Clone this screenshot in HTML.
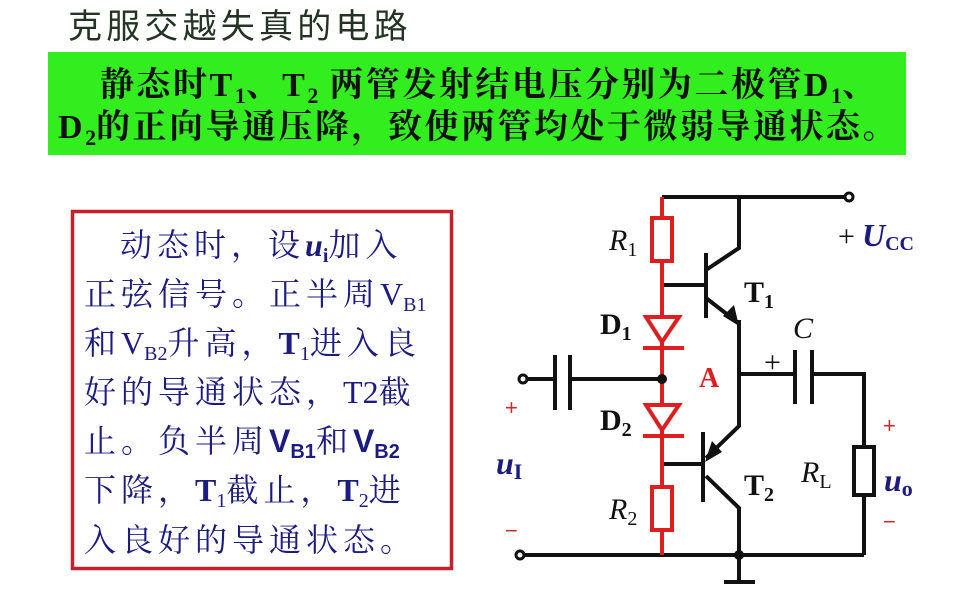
<!DOCTYPE html>
<html><head><meta charset="utf-8"><style>
html,body{margin:0;padding:0;background:#fff;width:959px;height:598px;overflow:hidden}
svg{display:block}
.t{font-family:"Liberation Serif","Noto Serif CJK SC",serif}
.s{font-family:"Liberation Sans","Noto Sans CJK SC",sans-serif}
</style></head><body>
<svg width="959" height="598" viewBox="0 0 959 598" xmlns="http://www.w3.org/2000/svg">
<rect width="959" height="598" fill="#fff"/>
<text x="68" y="38" class="s" font-size="34" fill="#243424" letter-spacing="4.2">克服交越失真的电路</text>
<rect x="48" y="52" width="858" height="103" fill="#33ee1e"/>
<g class="t" font-weight="bold" fill="#111" font-size="34">
<text x="100" y="96" letter-spacing="2.5">静态时T<tspan font-size="22" dy="7" letter-spacing="0">1</tspan><tspan dy="-7">、T</tspan><tspan font-size="22" dy="7" letter-spacing="0">2</tspan><tspan dy="-7"> 两管发射结电压分别为二极管D</tspan><tspan font-size="22" dy="7" letter-spacing="0">1</tspan><tspan dy="-7">、</tspan></text>
<text x="58" y="138" letter-spacing="2.5">D<tspan font-size="22" dy="7" letter-spacing="0">2</tspan><tspan dy="-7">的正向导通压降，致使两管均处于微弱导通状态。</tspan></text>
</g>
<rect x="72.5" y="211.5" width="379" height="357" fill="none" stroke="#c8202a" stroke-width="3.5"/>
<g class="t" fill="#1c1c80" font-size="32" letter-spacing="5">
<text x="120" y="256">动态时，设<tspan font-weight="bold" font-style="italic" letter-spacing="0">u</tspan><tspan font-size="20" dy="6" font-weight="bold" letter-spacing="0">i</tspan><tspan dy="-6">加入</tspan></text>
<text x="84" y="305">正弦信号。正半周<tspan letter-spacing="0">V</tspan><tspan font-size="20" dy="6" letter-spacing="0">B1</tspan></text>
<text x="84" y="354">和<tspan letter-spacing="0">V</tspan><tspan font-size="20" dy="6" letter-spacing="0">B2</tspan><tspan dy="-6">升高，</tspan><tspan font-weight="bold" letter-spacing="0">T</tspan><tspan font-size="20" dy="6" letter-spacing="0">1</tspan><tspan dy="-6">进入良</tspan></text>
<text x="84" y="403">好的导通状态，<tspan letter-spacing="0">T2</tspan>截</text>
<text x="84" y="452">止。负半周<tspan font-weight="bold" class="s" letter-spacing="0">V</tspan><tspan class="s" font-weight="bold" font-size="20" dy="6" letter-spacing="0">B1</tspan><tspan dy="-6">和</tspan><tspan class="s" font-weight="bold" letter-spacing="0">V</tspan><tspan class="s" font-weight="bold" font-size="20" dy="6" letter-spacing="0">B2</tspan></text>
<text x="84" y="501">下降，<tspan font-weight="bold" letter-spacing="0">T</tspan><tspan font-size="20" dy="6" letter-spacing="0">1</tspan><tspan dy="-6">截止，</tspan><tspan font-weight="bold" letter-spacing="0">T</tspan><tspan font-size="20" dy="6" letter-spacing="0">2</tspan><tspan dy="-6">进</tspan></text>
<text x="84" y="551">入良好的导通状态。</text>
</g>
<g stroke="#111" stroke-width="4" fill="none">
<polyline points="662,197 846,197"/>
<polyline points="739,197 739,248 706,270"/>
<line x1="706" y1="253" x2="706" y2="318"/>
<line x1="662" y1="285" x2="706" y2="285"/>
<polyline points="706,298 737,322 739,322 739,426 706,458"/>
<line x1="703" y1="432" x2="703" y2="502"/>
<line x1="662" y1="464" x2="703" y2="464"/>
<polyline points="706,476 739,508 739,582"/>
<line x1="724" y1="582" x2="755" y2="582"/>
<line x1="524" y1="555" x2="864" y2="555"/>
<polyline points="864,555 864,374 812,374"/>
<line x1="739" y1="374" x2="795" y2="374"/>
<line x1="795" y1="350" x2="795" y2="404"/>
<line x1="812" y1="350" x2="812" y2="404"/>
<line x1="527" y1="379" x2="555" y2="379"/>
<line x1="555" y1="355" x2="555" y2="410"/>
<line x1="570" y1="355" x2="570" y2="410"/>
<line x1="570" y1="379" x2="662" y2="379"/>
</g>
<rect x="854" y="447" width="20" height="48" fill="#fff" stroke="#111" stroke-width="4"/>
<polygon points="739,326 723,316 734,305" fill="#111"/>
<polygon points="705,462 722,452 712,441" fill="#111"/>
<g fill="#fff" stroke="#111" stroke-width="3">
<circle cx="849" cy="197" r="4"/><circle cx="523" cy="379" r="4"/><circle cx="520" cy="555" r="4"/>
</g>
<circle cx="739" cy="555" r="5" fill="#111"/>
<g stroke="#dd1f1f" stroke-width="4" fill="none">
<line x1="662" y1="197" x2="662" y2="555"/>
<rect x="652" y="218" width="20" height="43" fill="#fff"/>
<rect x="652" y="487" width="20" height="43" fill="#fff"/>
<polygon points="646,317 679,317 662,342" fill="#fff"/>
<line x1="643" y1="348" x2="684" y2="348"/>
<polygon points="646,405 679,405 662,430" fill="#fff"/>
<line x1="643" y1="436" x2="684" y2="436"/>
</g>
<circle cx="662" cy="379" r="5" fill="#111"/>
<g class="t" fill="#111" font-weight="bold" font-size="30">
<text x="744" y="302">T<tspan font-size="20" dy="6">1</tspan></text>
<text x="744" y="495">T<tspan font-size="20" dy="6">2</tspan></text>
<text x="600" y="334">D<tspan font-size="20" dy="6">1</tspan></text>
<text x="600" y="430">D<tspan font-size="20" dy="6">2</tspan></text>
</g>
<g class="t" fill="#111" font-style="italic" font-size="30">
<text x="609" y="250">R<tspan font-size="20" dy="6" font-style="normal">1</tspan></text>
<text x="609" y="519">R<tspan font-size="20" dy="6" font-style="normal">2</tspan></text>
<text x="801" y="482">R<tspan font-size="20" dy="6" font-style="normal">L</tspan></text>
<text x="793" y="338">C</text>
</g>
<text x="764" y="372" class="t" font-size="30" fill="#111">+</text>
<text x="838" y="246" class="t" font-size="30" fill="#111">+</text>
<text x="862" y="246" class="t" font-size="32" fill="#1c1c80" font-style="italic" font-weight="bold">U<tspan font-size="20" font-style="normal" font-weight="bold" dy="4">CC</tspan></text>
<text x="699" y="387" class="t" font-size="28" fill="#dd1f1f" font-weight="bold">A</text>
<text x="505" y="415" class="s" font-size="22" fill="#c03030">+</text>
<text x="505" y="538" class="s" font-size="22" fill="#c03030">−</text>
<text x="883" y="433" class="s" font-size="22" fill="#c03030">+</text>
<text x="883" y="529" class="s" font-size="22" fill="#c03030">−</text>
<text x="496" y="474" class="t" font-size="32" fill="#1c1c80" font-style="italic" font-weight="bold">u<tspan font-size="22" font-style="normal" dy="5">I</tspan></text>
<text x="884" y="491" class="t" font-size="32" fill="#1c1c80" font-style="italic" font-weight="bold">u<tspan font-size="22" font-style="normal" dy="5">o</tspan></text>
</svg>
</body></html>
